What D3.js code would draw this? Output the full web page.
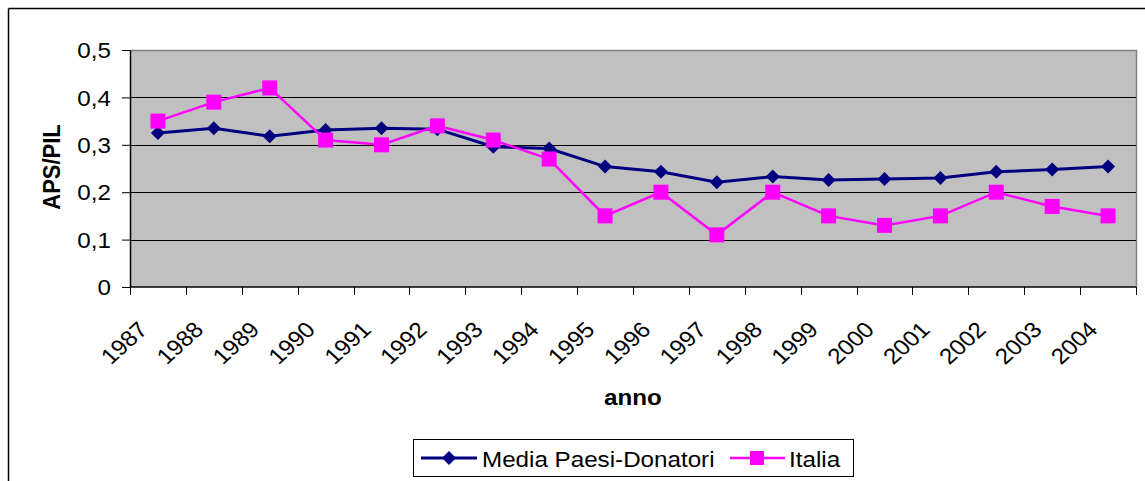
<!DOCTYPE html>
<html>
<head>
<meta charset="utf-8">
<script src="https://cdn.jsdelivr.net/npm/d3@7/dist/d3.min.js"></script>
<style>
  html, body { margin: 0; padding: 0; background: #fff; }
  svg { display: block; }
  text { font-family: "Liberation Sans", Arial, sans-serif; fill: #000; }
</style>
</head>
<body>
<svg id="chart" width="1145" height="481"></svg>
<script>
const years = ["1987","1988","1989","1990","1991","1992","1993","1994","1995","1996","1997","1998","1999","2000","2001","2002","2003","2004"];
const mediaDonatori = [0.325,0.335,0.318,0.331,0.335,0.333,0.296,0.292,0.254,0.243,0.221,0.233,0.226,0.228,0.230,0.243,0.248,0.254];
const italia = [0.35,0.39,0.42,0.31,0.30,0.34,0.31,0.27,0.15,0.20,0.11,0.20,0.15,0.13,0.15,0.20,0.17,0.15];
const yTicks = [0,0.1,0.2,0.3,0.4,0.5];
const seriesNames = ["Media Paesi-Donatori","Italia"];

const svg = d3.select("#chart");
const SX = 1.1; // horizontal text stretch of the original
const plot = {left:130, right:1136, top:50, bottom:287};

// outer frame (left and top visible)
svg.append("line").attr("x1",8.5).attr("y1",8.5).attr("x2",1145).attr("y2",8.5).attr("stroke","#000").attr("stroke-width",1.5);
svg.append("line").attr("x1",8.5).attr("y1",8.5).attr("x2",8.5).attr("y2",481).attr("stroke","#000").attr("stroke-width",1.5);

const x = d3.scaleBand().domain(years).range([plot.left, plot.right]).padding(0);
const y = d3.scaleLinear().domain([0,0.5]).range([plot.bottom, plot.top]);

// plot background
svg.append("rect").attr("x",plot.left).attr("y",plot.top)
  .attr("width",plot.right-plot.left).attr("height",plot.bottom-plot.top)
  .attr("fill","#c0c0c0");
// plot border (top/right gray)
svg.append("path")
  .attr("d",`M${plot.left},${plot.top+0.5}H${plot.right+0.5}V${plot.bottom}`)
  .attr("fill","none").attr("stroke","#808080").attr("stroke-width",1.5);

// gridlines
svg.append("g").selectAll("line").data(yTicks.filter(d=>d>0 && d<0.5)).join("line")
  .attr("x1",plot.left).attr("x2",plot.right)
  .attr("y1",d=>Math.round(y(d))+0.5).attr("y2",d=>Math.round(y(d))+0.5)
  .attr("stroke","#000").attr("stroke-width",1);

// y axis
const yAxis = svg.append("g").attr("transform",`translate(${plot.left},0)`)
  .call(d3.axisLeft(y).tickValues(yTicks).tickSize(8).tickSizeOuter(0)
    .tickFormat(d => d===0 ? "0" : d.toFixed(1).replace(".",",")));
yAxis.select(".domain").attr("stroke","#000").attr("stroke-width",1.5);
yAxis.selectAll(".tick line").attr("stroke","#000").attr("stroke-width",1);
yAxis.selectAll(".tick text")
  .attr("x",null).attr("dy","0.35em")
  .attr("transform",`translate(-19,0) scale(${SX},1)`)
  .attr("text-anchor","end")
  .style("font-size","22px").style("font-family","'Liberation Sans', Arial, sans-serif");

// x axis
const xg = svg.append("g").attr("transform",`translate(0,${plot.bottom})`);
xg.append("line").attr("x1",plot.left).attr("x2",plot.right).attr("y1",0).attr("y2",0)
  .attr("stroke","#000").attr("stroke-width",1.5);
const boundaries = years.map(d => x(d)).concat([x(years[years.length-1]) + x.bandwidth()]);
xg.selectAll("line.tk").data(boundaries).join("line").attr("class","tk")
  .attr("x1",d=>Math.round(d)+0.5).attr("x2",d=>Math.round(d)+0.5).attr("y1",0).attr("y2",8)
  .attr("stroke","#000").attr("stroke-width",1);
xg.selectAll("text").data(years).join("text")
  .attr("transform",d=>`translate(${x(d)+x.bandwidth()/2-9},${44}) scale(${SX},1) rotate(-45)`)
  .attr("text-anchor","end")
  .style("font-size","22px")
  .text(d=>d);

// axis titles
svg.append("text")
  .attr("transform",`translate(60,167) rotate(-90) scale(1,${SX})`)
  .attr("text-anchor","middle")
  .style("font-size","22px").style("font-weight","bold")
  .text("APS/PIL");
svg.append("text")
  .attr("transform",`translate(633,405) scale(${SX},1)`)
  .attr("text-anchor","middle")
  .style("font-size","22px").style("font-weight","bold")
  .text("anno");

const cx = d => x(d)+x.bandwidth()/2;
const line = d3.line().x((v,i)=>cx(years[i])).y(v=>y(v));

const diamond = (g, px, py) => g.append("path")
  .attr("d",`M${px},${py-7}L${px+7},${py}L${px},${py+7}L${px-7},${py}Z`).attr("fill","#000080");
const square = (g, px, py) => g.append("rect")
  .attr("x",px-7).attr("y",py-7).attr("width",14).attr("height",14).attr("fill","#ff00ff");

// Series lines
svg.append("path").datum(mediaDonatori).attr("d",line)
  .attr("fill","none").attr("stroke","#000080").attr("stroke-width",3);
svg.append("g").selectAll("path").data(mediaDonatori).join("path")
  .attr("d",(v,i)=>{const px=cx(years[i]),py=y(v);return `M${px},${py-7}L${px+7},${py}L${px},${py+7}L${px-7},${py}Z`;})
  .attr("fill","#000080");

svg.append("path").datum(italia).attr("d",line)
  .attr("fill","none").attr("stroke","#ff00ff").attr("stroke-width",2.5);
svg.append("g").selectAll("rect").data(italia).join("rect")
  .attr("x",(v,i)=>cx(years[i])-7.5).attr("y",v=>y(v)-7.5)
  .attr("width",15).attr("height",15).attr("fill","#ff00ff");

// legend
const lg = svg.append("g");
lg.append("rect").attr("x",413.5).attr("y",439.5).attr("width",440).attr("height",37)
  .attr("fill","#fff").attr("stroke","#000").attr("stroke-width",1);
lg.append("line").attr("x1",421).attr("x2",477).attr("y1",458).attr("y2",458)
  .attr("stroke","#000080").attr("stroke-width",3);
diamond(lg, 449, 458);
lg.append("text").attr("transform",`translate(482,466.5) scale(${SX},1)`)
  .style("font-size","22px").text(seriesNames[0]);
lg.append("line").attr("x1",730).attr("x2",785).attr("y1",458).attr("y2",458)
  .attr("stroke","#ff00ff").attr("stroke-width",2.5);
square(lg, 757, 458);
lg.append("text").attr("transform",`translate(789,466.5) scale(${SX},1)`)
  .style("font-size","22px").text(seriesNames[1]);
</script>
</body>
</html>
